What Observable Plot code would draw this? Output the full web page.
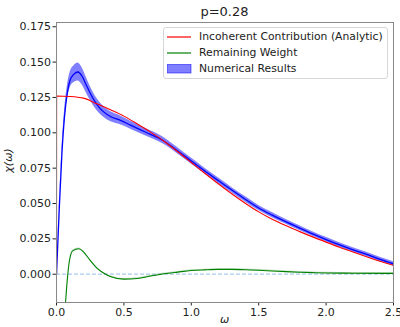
<!DOCTYPE html>
<html>
<head>
<meta charset="utf-8">
<script src="https://cdn.jsdelivr.net/npm/d3@7"></script>
<script src="https://cdn.jsdelivr.net/npm/@observablehq/plot@0.6"></script>
<style>
  body { margin: 0; background: #fff; }
  #wrap { position: relative; width: 400px; height: 327px; overflow: hidden; font-family: "DejaVu Sans", sans-serif; }
  .lab { position: absolute; color: #222; white-space: nowrap; }
  #legend { position: absolute; left: 163px; top: 27px; width: 223px; height: 50px; border: 1px solid #d6d6d6; border-radius: 3px; background: rgba(255,255,255,0.85); }
  .row { position: absolute; left: 0; height: 16px; font-size: 10.8px; color: #222; }
  .row svg { position: absolute; left: 3px; top: 3px; }
  .row span { position: absolute; left: 35px; top: 0; line-height: 16px; white-space: nowrap; }
</style>
</head>
<body>
<div id="wrap"></div>
<script>
// ---- data ----
const omegaNum = [0, 0.02, 0.04, 0.06, 0.08, 0.10, 0.13, 0.16, 0.19, 0.22, 0.25, 0.30, 0.35, 0.40, 0.475, 0.55, 0.65, 0.79, 0.90, 1.0, 1.1, 1.2, 1.3, 1.4, 1.5, 1.6, 1.7, 1.8, 1.9, 2.0, 2.1, 2.2, 2.3, 2.4, 2.5];
const numMean  = [0, 0.045, 0.085, 0.112, 0.128, 0.137, 0.1415, 0.143, 0.140, 0.134, 0.128, 0.120, 0.1148, 0.1115, 0.1088, 0.1054, 0.1009, 0.0946, 0.0872, 0.0800, 0.0730, 0.0662, 0.0595, 0.0530, 0.0468, 0.0418, 0.0372, 0.0328, 0.0285, 0.0245, 0.0207, 0.0172, 0.0140, 0.0105, 0.0073];
const numErr   = [0, 0.002, 0.003, 0.004, 0.005, 0.0055, 0.006, 0.0063, 0.006, 0.0055, 0.005, 0.0042, 0.0038, 0.0035, 0.0031, 0.0028, 0.0026, 0.0024, 0.0022, 0.0021, 0.002, 0.002, 0.0019, 0.0019, 0.0018, 0.0018, 0.0017, 0.0017, 0.0016, 0.0016, 0.0016, 0.0015, 0.0015, 0.0015, 0.0015];

const omegaAna = [0, 0.001, 0.1, 0.2, 0.3, 0.4, 0.5, 0.6, 0.7, 0.8, 0.9, 1.0, 1.1, 1.2, 1.3, 1.4, 1.5, 1.6, 1.7, 1.8, 1.9, 2.0, 2.1, 2.2, 2.3, 2.4, 2.5];
const anaVals  = [0, 0.126, 0.1257, 0.1245, 0.1205, 0.1163, 0.1118, 0.1062, 0.1003, 0.0939, 0.0866, 0.0790, 0.0714, 0.0640, 0.0569, 0.0502, 0.0441, 0.0389, 0.0344, 0.0303, 0.0264, 0.0227, 0.0191, 0.0157, 0.0124, 0.0092, 0.0062];

const omegaRem = [0.0, 0.03, 0.05, 0.067, 0.08, 0.095, 0.12, 0.166, 0.2, 0.25, 0.3, 0.364, 0.4, 0.5, 0.6, 0.7, 0.8, 0.9, 1.0, 1.1, 1.2, 1.3, 1.4, 1.5, 1.6, 1.7, 1.8, 1.9, 2.0, 2.2, 2.5];
const remVals  = [-0.126, -0.075, -0.042, -0.02, -0.004, 0.009, 0.0165, 0.018, 0.0158, 0.0098, 0.0043, 0, -0.0016, -0.0035, -0.003, -0.0013, 0.0003, 0.0015, 0.0026, 0.0031, 0.0034, 0.0034, 0.0032, 0.0028, 0.0023, 0.0018, 0.0014, 0.0011, 0.0009, 0.0007, 0.0006];
const remErr   = 0.0005;

const xTicks = [0, 0.5, 1.0, 1.5, 2.0, 2.5];
const yTicks = [0, 0.025, 0.05, 0.075, 0.1, 0.125, 0.15, 0.175];
const zeroLine = [0];

const title = "p=0.28";
const legendLabels = ["Incoherent Contribution (Analytic)", "Remaining Weight", "Numerical Results"];

// ---- tables ----
const num = omegaNum.map((w, i) => ({w, m: numMean[i], lo: numMean[i] - numErr[i], hi: numMean[i] + numErr[i]}));
const ana = omegaAna.map((w, i) => ({w, v: anaVals[i]}));
const rem = omegaRem.map((w, i) => ({w, v: remVals[i], lo: remVals[i] - remErr, hi: remVals[i] + remErr}));

const plot = Plot.plot({
  width: 400,
  height: 327,
  marginLeft: 56,
  marginRight: 7,
  marginTop: 22,
  marginBottom: 25,
  style: {fontFamily: "DejaVu Sans, sans-serif", fontSize: "11px", color: "#222", background: "transparent"},
  x: {domain: [0, 2.5], ticks: xTicks, tickFormat: d3.format(".1f"), label: null, tickSize: 3.5, tickPadding: 2},
  y: {domain: [-0.02, 0.178], ticks: yTicks, tickFormat: d3.format(".3f"), label: null, tickSize: 3.5, tickPadding: 2},
  marks: [
    Plot.ruleY(zeroLine, {stroke: "#6fa8dc", strokeOpacity: 0.6, strokeDasharray: "4,2", strokeWidth: 1.2}),
    Plot.areaY(rem, {x: "w", y1: "lo", y2: "hi", fill: "green", fillOpacity: 0.25, curve: "monotone-x", clip: true}),
    Plot.areaY(num, {x: "w", y1: "lo", y2: "hi", fill: "#0000ff", fillOpacity: 0.5, curve: "monotone-x", clip: true}),
    Plot.line(num, {x: "w", y: "m", stroke: "#0000ff", strokeWidth: 1.3, curve: "monotone-x", clip: true}),
    Plot.line(ana, {x: "w", y: "v", stroke: "#ff0000", strokeWidth: 1.1, curve: "monotone-x", clip: true}),
    Plot.line(rem, {x: "w", y: "v", stroke: "#008000", strokeWidth: 1.1, curve: "monotone-x", clip: true}),
    Plot.frame({stroke: "#888"})
  ]
});

const wrap = document.getElementById("wrap");
plot.style.position = "absolute";
plot.style.left = "0px";
plot.style.top = "0px";
wrap.appendChild(plot);

function addLabel(text, css) {
  const d = document.createElement("div");
  d.className = "lab";
  d.textContent = text;
  Object.assign(d.style, css);
  wrap.appendChild(d);
  return d;
}
addLabel(title, {left: "0px", width: "449px", textAlign: "center", top: "4px", fontSize: "13px"});
addLabel("ω", {left: "0px", width: "449px", textAlign: "center", top: "313px", fontSize: "11px", fontStyle: "italic"});
addLabel("χ(ω)", {left: "-12px", top: "154px", fontSize: "11px", fontStyle: "italic", transform: "rotate(-90deg)", width: "40px", textAlign: "center"});

// legend
const legend = document.createElement("div");
legend.id = "legend";
wrap.appendChild(legend);
const swatches = [
  '<svg width="25" height="10"><line x1="0" y1="5" x2="24" y2="5" stroke="#ff0000" stroke-width="1.2"/></svg>',
  '<svg width="25" height="10"><line x1="0" y1="5" x2="24" y2="5" stroke="#008000" stroke-width="1.2"/></svg>',
  '<svg width="25" height="10"><rect x="0" y="0" width="24" height="9" fill="#0000ff" fill-opacity="0.5" stroke="#0000ff" stroke-opacity="0.5"/></svg>'
];
const tops = [1, 16.5, 32.5];
legendLabels.forEach((t, i) => {
  const r = document.createElement("div");
  r.className = "row";
  r.style.top = tops[i] + "px";
  r.innerHTML = swatches[i] + "<span></span>";
  r.querySelector("span").textContent = t;
  legend.appendChild(r);
});
</script>
</body>
</html>
